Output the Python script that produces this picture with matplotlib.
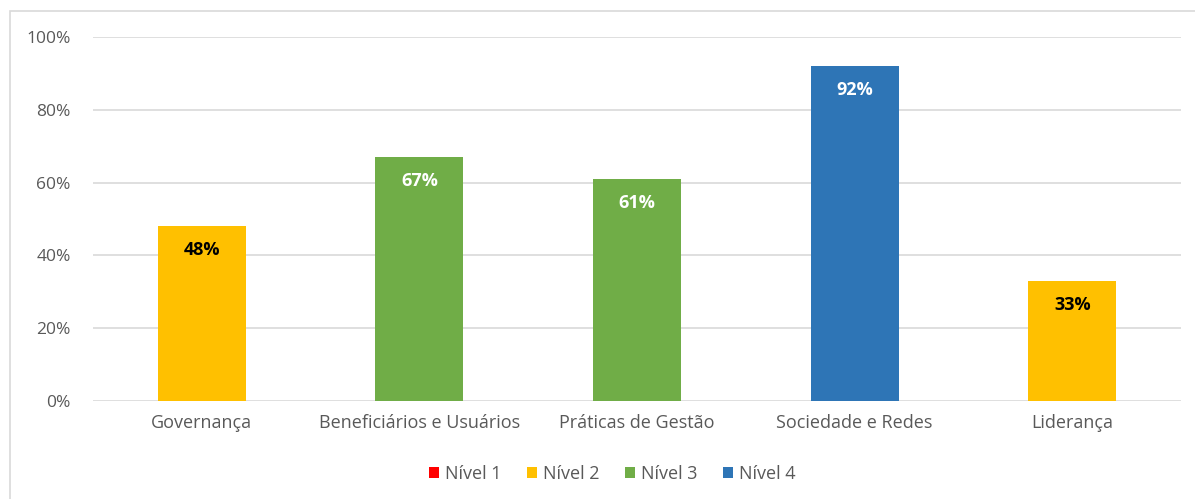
import matplotlib
matplotlib.use("Agg")
import matplotlib.pyplot as plt
from matplotlib.patches import Patch, Rectangle

categories = ["Governança", "Beneficiários e Usuários", "Práticas de Gestão", "Sociedade e Redes", "Liderança"]
values = [48, 67, 61, 92, 33]
levels = [2, 3, 3, 4, 2]
level_names = ["Nível 1", "Nível 2", "Nível 3", "Nível 4"]
level_colors = {1: "#FF0000", 2: "#FFC000", 3: "#70AD47", 4: "#2E75B6"}
label_colors = {1: "white", 2: "black", 3: "white", 4: "white"}
yticks = [0, 20, 40, 60, 80, 100]

plt.rcParams['font.family'] = ['Open Sans', 'DejaVu Sans']

W, H = 1195, 499
fig = plt.figure(figsize=(W / 100, H / 100), dpi=100)
ax = fig.add_axes([93 / W, 1 - 401 / H, (1181 - 93) / W, (401 - 37) / H])

x = list(range(len(categories)))
colors = [level_colors[l] for l in levels]
ax.bar(x, values, width=0.405, color=colors, zorder=3)
for xi, v, l in zip(x, values, levels):
    ax.text(xi, v - 6.6, f"{v}%", ha="center", va="center", fontsize=13,
            fontweight="bold", color=label_colors[l], zorder=4)

ax.set_xlim(-0.5, len(categories) - 0.5)
ax.set_ylim(0, 100)
ax.set_yticks(yticks)
ax.set_yticklabels([f"{t}%" for t in yticks])
ax.set_xticks(x)
ax.set_xticklabels(categories)
ax.tick_params(axis="both", length=0, labelcolor="#595959")
ax.tick_params(axis="y", pad=16, labelsize=12.5)
ax.tick_params(axis="x", pad=9, labelsize=13)
ax.grid(axis="y", color="#D9D9D9", linewidth=1.2, zorder=0)
for s in ax.spines.values():
    s.set_visible(False)

handles = [Patch(facecolor=level_colors[i + 1], edgecolor="none", label=n) for i, n in enumerate(level_names)]
fig.legend(handles=handles, loc="center", bbox_to_anchor=(612 / W, 1 - 474 / H), ncol=4,
           frameon=False, fontsize=13, handlelength=0.6, handleheight=0.6,
           handletextpad=0.3, columnspacing=1.4, labelcolor="#595959")

fig.patches.append(Rectangle((10 / W, -0.1), 1.2, 1 - 11 / H + 0.1, transform=fig.transFigure,
                             fill=False, edgecolor="#D9D9D9", linewidth=1.2))

fig.savefig("out.png", dpi=100)
